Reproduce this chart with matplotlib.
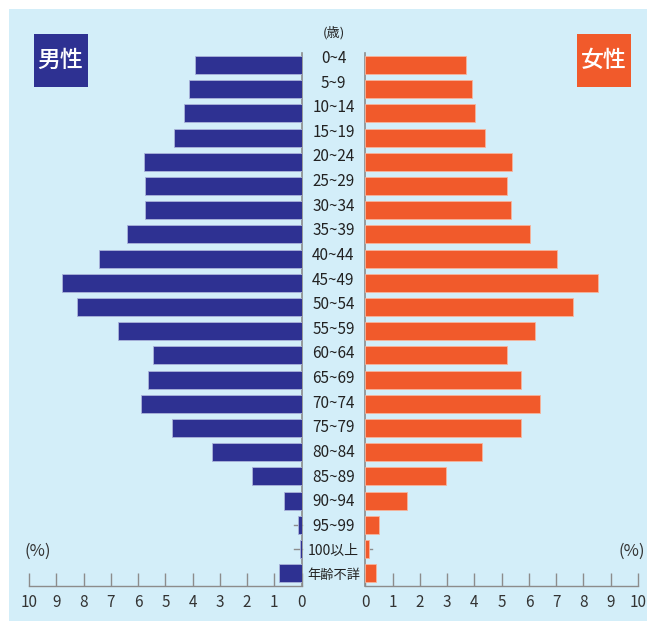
import matplotlib
matplotlib.use("Agg")
import matplotlib.pyplot as plt
from matplotlib.patches import Rectangle

plt.rcParams['font.family'] = ['Noto Sans CJK JP', 'DejaVu Sans']

categories = ["0~4", "5~9", "10~14", "15~19", "20~24", "25~29", "30~34", "35~39",
              "40~44", "45~49", "50~54", "55~59", "60~64", "65~69", "70~74", "75~79",
              "80~84", "85~89", "90~94", "95~99", "100以上", "年齢不詳"]
male = [3.90, 4.13, 4.31, 4.68, 5.80, 5.74, 5.74, 6.41, 7.42, 8.79, 8.23, 6.73,
        5.45, 5.65, 5.89, 4.74, 3.27, 1.80, 0.65, 0.12, 0.04, 0.82]
female = [3.68, 3.90, 4.02, 4.40, 5.38, 5.21, 5.34, 6.05, 7.03, 8.53, 7.60, 6.21,
          5.20, 5.71, 6.41, 5.71, 4.28, 2.96, 1.53, 0.49, 0.12, 0.41]
ticks = list(range(0, 11))
tick_labels = [str(t) for t in ticks]

W, H = 647, 621
NAVY = "#2e3192"
ORANGE = "#f15a2b"
BG = "#d3eef9"
GREY = "#8c8c8c"

fig = plt.figure(figsize=(W / 100, H / 100), dpi=100)
fig.patch.set_facecolor("white")

def fx(px):
    return px / W

def fy(py):
    return 1 - py / H

fig.patches.append(Rectangle((fx(9), 0), 1 - fx(9), fy(9), transform=fig.transFigure,
                             facecolor=BG, edgecolor="none", zorder=-5))

y0_px, step_px = 65.0, 24.2
top_px, bot_px = 53.0, 586.0
ytop = (top_px - y0_px) / step_px
ybot = (bot_px - y0_px) / step_px
ax_bottom = fy(bot_px)
ax_height = fy(top_px) - fy(bot_px)

axL = fig.add_axes([fx(29.2), ax_bottom, fx(301.5) - fx(29.2), ax_height])
axR = fig.add_axes([fx(365.3), ax_bottom, fx(638.0) - fx(365.3), ax_height])

ypos = list(range(len(categories)))
for ax, vals, color, side in ((axL, male, NAVY, "L"), (axR, female, ORANGE, "R")):
    ax.set_facecolor("none")
    ax.patch.set_visible(False)
    ax.barh(ypos, vals, height=0.745, color=color,
            edgecolor="#aab4da" if side == "L" else "#f7b49c",
            linewidth=0.6, zorder=3)
    ax.set_ylim(ybot, ytop)
    ax.set_yticks([])
    ax.set_xticks(ticks)
    ax.set_xticklabels(tick_labels)
    ax.tick_params(axis="x", direction="in", length=9.5, width=1.0, color=GREY,
                   labelsize=11, labelcolor="#333333", pad=6)
    for s in ax.spines.values():
        s.set_visible(False)
    ax.spines["bottom"].set_visible(True)
    ax.spines["bottom"].set_color(GREY)
    ax.spines["bottom"].set_linewidth(1.0)
    if side == "L":
        ax.set_xlim(10, 0)
        ax.spines["right"].set_visible(True)
        ax.spines["right"].set_color(GREY)
        ax.spines["right"].set_linewidth(1.2)
    else:
        ax.set_xlim(0, 10)
        ax.spines["left"].set_visible(True)
        ax.spines["left"].set_color(GREY)
        ax.spines["left"].set_linewidth(1.2)

# leader lines for tiny bars
for i in (19, 20):
    axL.plot([0, 0.27], [i, i], color=GREY, lw=1.0, zorder=2, clip_on=False)
axR.plot([0, 0.25], [20, 20], color=GREY, lw=1.0, zorder=2, clip_on=False)

# category labels
lab0_px, lab_step = 58.5, 24.62
for i, c in enumerate(categories):
    py = lab0_px + lab_step * i
    size = 11 if c.replace("~", "").isdigit() else 9.5
    if c == "100以上":
        size = 10
    fig.text(fx(333.5), fy(py), c, ha="center", va="center", fontsize=size, color="#222222")

fig.text(fx(334), fy(33), "(歳)", ha="center", va="center", fontsize=9.5, color="#222222")

# gender boxes
fig.patches.append(Rectangle((fx(34), fy(87)), fx(88) - fx(34), fy(33.5) - fy(87),
                             transform=fig.transFigure, facecolor=NAVY, edgecolor="none", zorder=1))
fig.patches.append(Rectangle((fx(577), fy(87)), fx(631) - fx(577), fy(33.5) - fy(87),
                             transform=fig.transFigure, facecolor=ORANGE, edgecolor="none", zorder=1))
fig.text(fx(60.5), fy(60.5), "男性", ha="center", va="center", fontsize=16.5, color="white",
         fontweight="medium", zorder=2)
fig.text(fx(604), fy(60.5), "女性", ha="center", va="center", fontsize=16.5, color="white",
         fontweight="medium", zorder=2)

fig.text(fx(38), fy(551), "(%)", ha="center", va="center", fontsize=12, color="#333333")
fig.text(fx(632), fy(551), "(%)", ha="center", va="center", fontsize=12, color="#333333")

fig.savefig("out.png", dpi=100, facecolor=fig.get_facecolor())
